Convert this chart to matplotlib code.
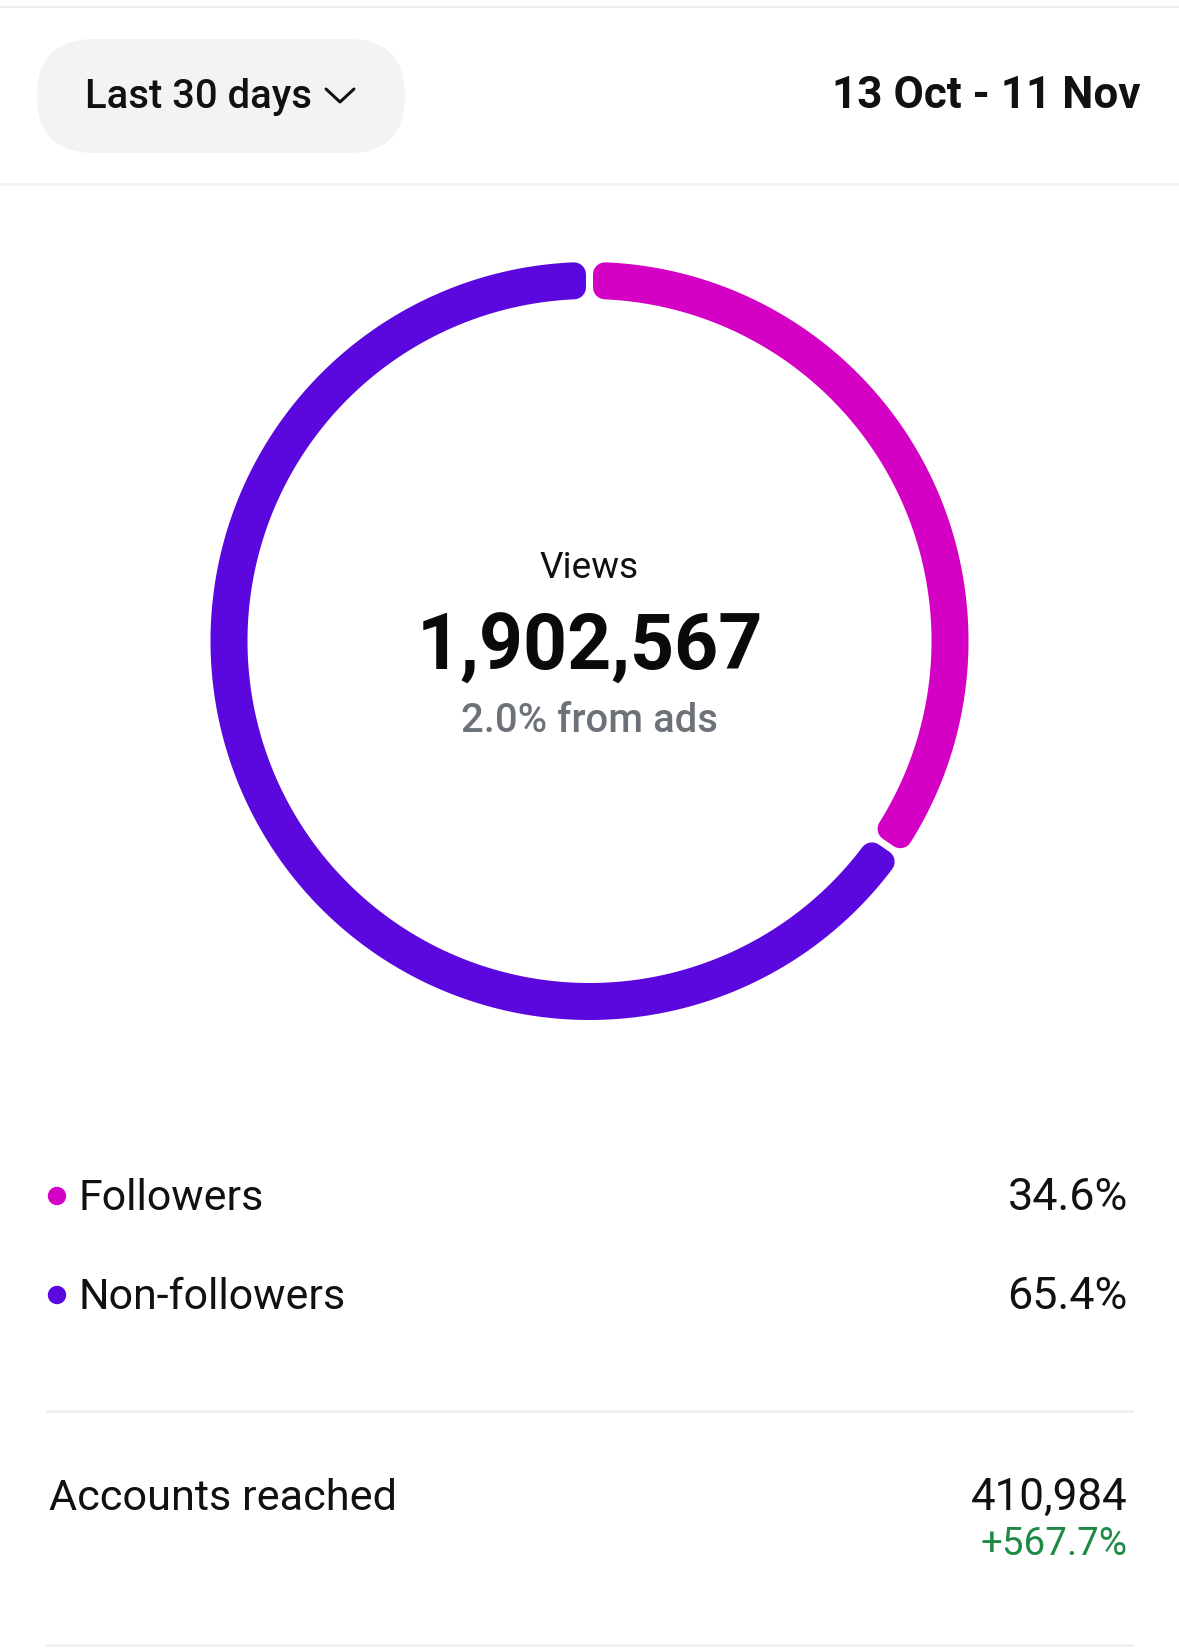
import numpy as np
import matplotlib.pyplot as plt
from matplotlib.patches import FancyBboxPatch, Circle, Polygon

plt.rcParams['font.family'] = ['Roboto', 'DejaVu Sans']

# data
labels = ['Followers', 'Non-followers']
shares = [34.6, 65.4]
colors = ['#d400c4', '#5a08de']
total_views = '1,902,567'
ads_note = '2.0% from ads'
period = 'Last 30 days'
date_range = '13 Oct - 11 Nov'
reach_label = 'Accounts reached'
reach_value = '410,984'
reach_change = '+567.7%'

W, H = 1179, 1651
fig = plt.figure(figsize=(W / 100, H / 100), dpi=100)
ax = fig.add_axes([0, 0, 1, 1])
ax.set_xlim(0, W)
ax.set_ylim(H, 0)
ax.axis('off')

def px(v):
    return v * 0.72

# top bar
ax.plot([0, W], [7, 7], color='#ececee', lw=px(2))
ax.plot([0, W], [184, 184], color='#f3f3f5', lw=px(3))
pill = FancyBboxPatch((37, 39), 368, 114, boxstyle='round,pad=0,rounding_size=57',
                      fc='#f2f3f5', ec='none')
ax.add_patch(pill)
ax.text(85, 108, period, fontsize=px(40), fontweight='medium', color='#111111',
        va='baseline', ha='left')
ax.plot([326, 340, 354], [89, 102, 89], color='#111111', lw=px(3),
        solid_capstyle='round', solid_joinstyle='round')
ax.text(1141, 108, date_range, fontsize=px(44), fontweight='bold', color='#111111',
        va='baseline', ha='right')

# donut: segments with rounded-corner ends, small gaps between them
cx, cy = 589.5, 641
r_out, r_in = 379, 342
rc = 12      # corner radius
half_gap = 3.5
d = half_gap + rc
ro, ri = r_out - rc, r_in + rc
start = 0.0
for share, col in zip(shares, colors):
    end = start + share / 100 * 2 * np.pi
    to = np.linspace(start + np.arcsin(d / ro), end - np.arcsin(d / ro), 300)
    ti = np.linspace(end - np.arcsin(d / ri), start + np.arcsin(d / ri), 300)
    xs = np.concatenate([cx + ro * np.sin(to), cx + ri * np.sin(ti)])
    ys = np.concatenate([cy - ro * np.cos(to), cy - ri * np.cos(ti)])
    ax.add_patch(Polygon(np.column_stack([xs, ys]), closed=True, fc=col, ec=col,
                         lw=px(2 * rc), joinstyle='round'))
    start = end

ax.text(cx, 578, 'Views', fontsize=px(37), color='#111111', ha='center', va='baseline')
ax.text(cx, 670, total_views, fontsize=px(77), fontweight='bold', color='#0a0a0a',
        ha='center', va='baseline')
ax.text(cx, 732, ads_note, fontsize=px(40), fontweight='medium', color='#6d7178',
        ha='center', va='baseline')

# legend
for i, (lab, share, col) in enumerate(zip(labels, shares, colors)):
    y = 1196 + i * 99
    ax.add_patch(Circle((57, y), 8.5, color=col))
    ax.text(79, y + 14, lab, fontsize=px(43), color='#111111', ha='left', va='baseline')
    ax.text(1128, y + 14, f'{share:.1f}%', fontsize=px(45), color='#111111',
            ha='right', va='baseline')

ax.plot([47, 1132], [1411, 1411], color='#f0f0f2', lw=px(3))
ax.text(49, 1510, reach_label, fontsize=px(43.3), color='#111111', ha='left', va='baseline')
ax.text(1128, 1510, reach_value, fontsize=px(44), color='#111111', ha='right', va='baseline')
ax.text(1128, 1555, reach_change, fontsize=px(38.5), color='#1f8a45', ha='right', va='baseline')
ax.plot([47, 1132], [1645, 1645], color='#f0f0f2', lw=px(3))

fig.savefig('out.png', dpi=100, facecolor='white')
